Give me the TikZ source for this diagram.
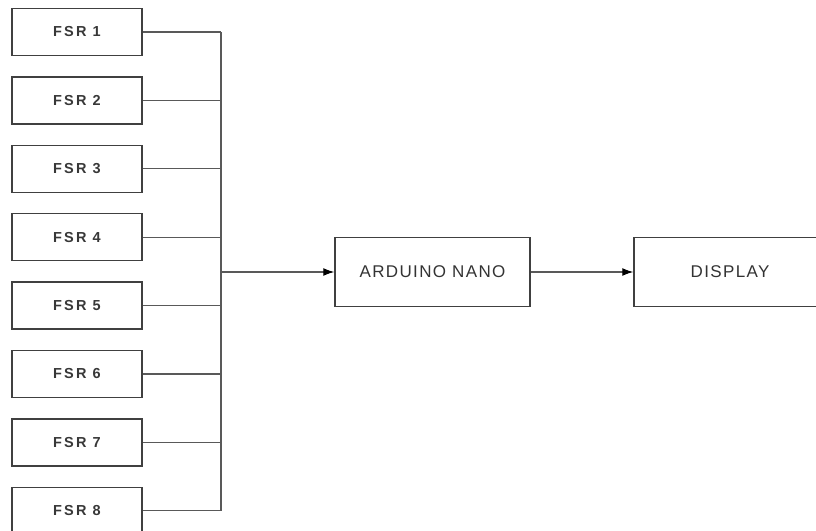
\documentclass[tikz,border=0pt]{standalone}
\usepackage{fontspec}
\setmainfont{Liberation Sans}
\newfontfamily\smallsp[LetterSpace=15]{Liberation Sans}
\newfontfamily\bigsp[LetterSpace=8]{Liberation Sans}
\usetikzlibrary{arrows.meta}
\begin{document}
\begin{tikzpicture}[x=1pt,y=-1pt,
  fsrbox/.style={draw=black!75, line width=1.5pt, minimum width=130pt, minimum height=47pt,
    inner sep=0pt, text=black!78, font=\smallsp\fontsize{14.5}{16}\selectfont\bfseries},
  bigbox/.style={draw=black!75, line width=1.5pt, minimum height=69pt,
    inner sep=0pt, text=black!80, font=\bigsp\fontsize{17}{19}\selectfont},
  wire/.style={draw=black!65, line width=1.1pt},
  arr/.style={wire, -{Latex[length=11pt,width=8pt,color=black]}}]
\useasboundingbox (0,0) rectangle (816,530);
\clip (0,0) rectangle (816,530);
\fill[white] (0,0) rectangle (816,530);
\foreach \i in {1,...,8} {
  \node[fsrbox] (f\i) at (77,{32+68.4*(\i-1)}) {FSR \i};
}
\coordinate (bustop) at (221,32);
\coordinate (busbot) at (221,511);
\coordinate (busmid) at (221,272);
\node[bigbox, minimum width=195pt] (nano) at (432.5,272) {ARDUINO NANO};
\node[bigbox, minimum width=192pt] (disp) at (730,272) {DISPLAY};
\foreach \i in {1,...,8} {
  \draw[wire] (f\i.east) -- (f\i.east -| bustop);
}
\draw[wire] (bustop) -- (busbot);
\draw[arr] (busmid) -- (nano.west);
\draw[arr] (nano.east) -- (disp.west);
\end{tikzpicture}
\end{document}
